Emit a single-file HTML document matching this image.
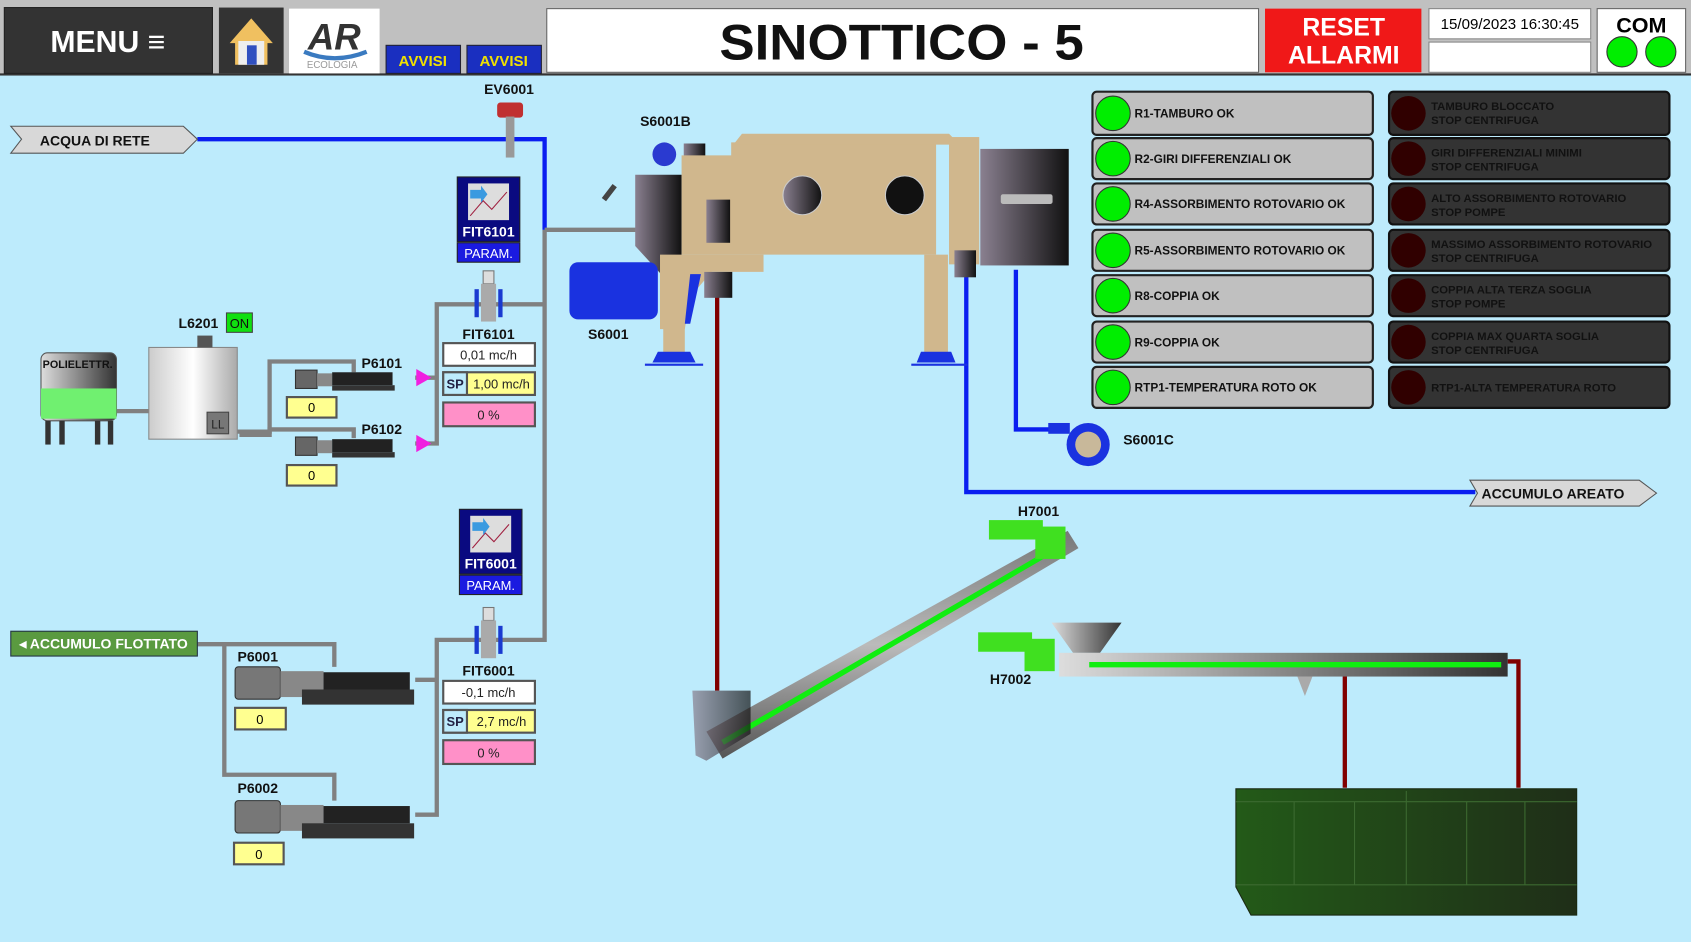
<!DOCTYPE html>
<html><head><meta charset="utf-8"><style>
html,body{margin:0;padding:0;background:#bdebfc;overflow:hidden}
svg{display:block}
text{font-family:"Liberation Sans Narrow","Liberation Sans",sans-serif}
.b{font-weight:bold}
</style></head><body>
<svg width="1691" height="942" viewBox="0 0 1568 873" preserveAspectRatio="none" xmlns="http://www.w3.org/2000/svg">
<defs>
<linearGradient id="gm" x1="0" x2="1"><stop offset="0" stop-color="#8a8090"/><stop offset="1" stop-color="#111"/></linearGradient>
<linearGradient id="gs" x1="0" x2="1"><stop offset="0" stop-color="#ddd"/><stop offset=".5" stop-color="#888"/><stop offset="1" stop-color="#333"/></linearGradient>
<linearGradient id="gt" x1="0" x2="1"><stop offset="0" stop-color="#ccc"/><stop offset=".5" stop-color="#fff"/><stop offset="1" stop-color="#aaa"/></linearGradient>
<linearGradient id="gc" x1="0" x2="1"><stop offset="0" stop-color="#235a18"/><stop offset="1" stop-color="#1f2e18"/></linearGradient>
<linearGradient id="gsc" x1="0" y1="0" x2="0" y2="1"><stop offset="0" stop-color="#777"/><stop offset=".5" stop-color="#bbb"/><stop offset="1" stop-color="#555"/></linearGradient>
</defs>
<rect width="1568" height="873" fill="#bdebfc"/>
<!-- header -->
<rect x="0" y="0" width="1568" height="70" fill="#c0c0c0"/>
<rect x="0" y="68" width="1568" height="2" fill="#333"/>
<rect x="4" y="7" width="193" height="61" fill="#333" stroke="#222"/>
<text x="100" y="48" text-anchor="middle" class="b" font-size="28" fill="#fff">MENU ≡</text>
<rect x="203" y="7" width="60" height="61" fill="#333"/>
<polygon points="233,17 213,40 218,40 218,60 248,60 248,40 253,40" fill="#f0c060"/>
<rect x="221" y="38" width="24" height="22" fill="#eee"/><rect x="229" y="42" width="9" height="18" fill="#3050c0"/>
<rect x="268" y="8" width="84" height="60" fill="#fff"/>
<text x="310" y="46" text-anchor="middle" class="b" font-size="34" fill="#333" font-style="italic">AR</text>
<path d="M282,48 Q310,60 340,48" stroke="#3a7ac0" stroke-width="4" fill="none"/>
<text x="308" y="63" text-anchor="middle" font-size="9" fill="#999">ECOLOGIA</text>
<rect x="358" y="42" width="69" height="26" fill="#1a2fc0" stroke="#223"/>
<text x="392" y="61" text-anchor="middle" class="b" font-size="14" fill="#f0e000">AVVISI</text>
<rect x="433" y="42" width="69" height="26" fill="#1a2fc0" stroke="#223"/>
<text x="467" y="61" text-anchor="middle" class="b" font-size="14" fill="#f0e000">AVVISI</text>
<rect x="507" y="8" width="660" height="59" fill="#fff" stroke="#666"/>
<text x="836" y="55" text-anchor="middle" class="b" font-size="46" fill="#111" textLength="338" lengthAdjust="spacingAndGlyphs">SINOTTICO - 5</text>
<rect x="1173" y="8" width="145" height="59" fill="#f01818"/>
<text x="1246" y="33" text-anchor="middle" class="b" font-size="23" fill="#fff">RESET</text>
<text x="1246" y="59" text-anchor="middle" class="b" font-size="23" fill="#fff">ALLARMI</text>
<rect x="1325" y="8" width="150" height="28" fill="#fff" stroke="#888"/>
<text x="1400" y="27" text-anchor="middle" font-size="14" fill="#000">15/09/2023 16:30:45</text>
<rect x="1325" y="39" width="150" height="28" fill="#fff" stroke="#888"/>
<rect x="1481" y="8" width="82" height="59" fill="#fff" stroke="#666"/>
<text x="1522" y="30" text-anchor="middle" class="b" font-size="20" fill="#000">COM</text>
<circle cx="1504" cy="48" r="14" fill="#00ee00" stroke="#333"/><circle cx="1540" cy="48" r="14" fill="#00ee00" stroke="#333"/>

<!-- pipes -->
<polyline points="183,129 505,129 505,213" fill="none" stroke="#0a1ef0" stroke-width="4"/>
<g fill="none" stroke="#808080" stroke-width="4">
<polyline points="505,213 590,213"/>
<polyline points="505,213 505,593 405,593 405,755 385,755"/>
<polyline points="505,282 405,282 405,411 385,411"/>
<polyline points="405,350 385,350"/>
<polyline points="405,630 385,630"/>
<polyline points="183,597 310,597 310,618"/>
<polyline points="208,597 208,718 310,718 310,742"/>
<polyline points="108,381 140,381"/>
<polyline points="220,400 250,400 250,335 328,335 328,345"/>
<polyline points="222,403 250,403 250,398 328,398 328,406"/>
</g>
<g fill="none" stroke="#0a1ef0" stroke-width="4">
<polyline points="942,250 942,398 975,398"/>
<polyline points="896,250 896,456 1368,456"/>
</g>
<g fill="none" stroke="#800000" stroke-width="4">
<line x1="665" y1="275" x2="665" y2="640"/>
<polyline points="1247,625 1247,730"/>
<polyline points="1398,613 1408,613 1408,730"/>
</g>

<polygon points="10,117 170,117 183,129 170,142 10,142 20,129" fill="#d8d8d8" stroke="#555"/>
<text x="88" y="135" text-anchor="middle" class="b" font-size="13" fill="#111">ACQUA DI RETE</text>
<polygon points="1363,445 1520,445 1536,457 1520,469 1363,469 1370,457" fill="#d8d8d8" stroke="#555"/>
<text x="1440" y="462" text-anchor="middle" class="b" font-size="13" fill="#111">ACCUMULO AREATO</text>
<rect x="10" y="585" width="173" height="23" fill="#5a9a40" stroke="#234"/>
<text x="96" y="601" text-anchor="middle" class="b" font-size="13" fill="#fff">◂ ACCUMULO FLOTTATO</text>

<text x="472" y="87" text-anchor="middle" class="b" font-size="13" fill="#111">EV6001</text>
<rect x="461" y="95" width="24" height="14" rx="3" fill="#c03030"/>
<rect x="469" y="108" width="8" height="38" fill="#999"/>

<rect x="424" y="164" width="58" height="60" fill="#0a0a80" stroke="#222"/>
<rect x="434" y="170" width="38" height="34" fill="#ddd"/>
<polyline points="436,200 448,186 456,194 470,178" stroke="#a02040" fill="none"/>
<polygon points="436,176 446,176 446,172 452,180 446,188 446,184 436,184" fill="#3a9ae0"/>
<text x="453" y="219" text-anchor="middle" class="b" font-size="13" fill="#fff">FIT6101</text>
<rect x="424" y="225" width="58" height="18" fill="#1a1ae0" stroke="#222"/>
<text x="453" y="239" text-anchor="middle" font-size="12" fill="#fff">PARAM.</text>
<rect x="448" y="251" width="10" height="12" fill="#ddd" stroke="#777"/>
<rect x="446" y="263" width="14" height="35" fill="#aaa"/>
<rect x="440" y="268" width="4" height="26" fill="#1a3ad0"/><rect x="462" y="268" width="4" height="26" fill="#1a3ad0"/>
<text x="453" y="314" text-anchor="middle" class="b" font-size="13" fill="#111">FIT6101</text>
<rect x="411" y="318" width="85" height="21" fill="#fff" stroke="#555" stroke-width="2"/>
<text x="453" y="333" text-anchor="middle" font-size="12" fill="#222">0,01 mc/h</text>
<rect x="411" y="345" width="85" height="21" fill="#ffff90" stroke="#555" stroke-width="2"/>
<rect x="411" y="345" width="22" height="21" fill="#bdebfc" stroke="#555" stroke-width="2"/>
<text x="422" y="360" text-anchor="middle" class="b" font-size="12" fill="#224">SP</text>
<text x="465" y="360" text-anchor="middle" font-size="12" fill="#222">1,00 mc/h</text>
<rect x="411" y="373" width="85" height="22" fill="#ff90c8" stroke="#555" stroke-width="2"/>
<text x="453" y="389" text-anchor="middle" font-size="12" fill="#222">0 %</text>

<rect x="426" y="472" width="58" height="60" fill="#0a0a80" stroke="#222"/>
<rect x="436" y="478" width="38" height="34" fill="#ddd"/>
<polyline points="438,508 450,494 458,502 472,486" stroke="#a02040" fill="none"/>
<polygon points="438,484 448,484 448,480 454,488 448,496 448,492 438,492" fill="#3a9ae0"/>
<text x="455" y="527" text-anchor="middle" class="b" font-size="13" fill="#fff">FIT6001</text>
<rect x="426" y="533" width="58" height="18" fill="#1a1ae0" stroke="#222"/>
<text x="455" y="547" text-anchor="middle" font-size="12" fill="#fff">PARAM.</text>
<rect x="448" y="563" width="10" height="12" fill="#ddd" stroke="#777"/>
<rect x="446" y="575" width="14" height="35" fill="#aaa"/>
<rect x="440" y="580" width="4" height="26" fill="#1a3ad0"/><rect x="462" y="580" width="4" height="26" fill="#1a3ad0"/>
<text x="453" y="626" text-anchor="middle" class="b" font-size="13" fill="#111">FIT6001</text>
<rect x="411" y="631" width="85" height="21" fill="#fff" stroke="#555" stroke-width="2"/>
<text x="453" y="646" text-anchor="middle" font-size="12" fill="#222">-0,1 mc/h</text>
<rect x="411" y="658" width="85" height="21" fill="#ffff90" stroke="#555" stroke-width="2"/>
<rect x="411" y="658" width="22" height="21" fill="#bdebfc" stroke="#555" stroke-width="2"/>
<text x="422" y="673" text-anchor="middle" class="b" font-size="12" fill="#224">SP</text>
<text x="465" y="673" text-anchor="middle" font-size="12" fill="#222">2,7 mc/h</text>
<rect x="411" y="686" width="85" height="22" fill="#ff90c8" stroke="#555" stroke-width="2"/>
<text x="453" y="702" text-anchor="middle" font-size="12" fill="#222">0 %</text>

<rect x="38" y="327" width="70" height="63" rx="6" fill="url(#gs)" stroke="#555"/>
<rect x="38" y="360" width="70" height="28" fill="#70f070"/>
<text x="72" y="341" text-anchor="middle" class="b" font-size="10" fill="#111">POLIELETTR.</text>
<g fill="#333"><rect x="42" y="390" width="5" height="22"/><rect x="55" y="390" width="5" height="22"/><rect x="88" y="390" width="5" height="22"/><rect x="100" y="390" width="5" height="22"/></g>
<rect x="138" y="322" width="82" height="85" fill="url(#gt)" stroke="#888"/>
<rect x="192" y="382" width="20" height="20" fill="#777" stroke="#444"/>
<text x="202" y="397" text-anchor="middle" font-size="11" fill="#222">LL</text>
<rect x="183" y="311" width="14" height="11" fill="#555"/>
<text x="184" y="304" text-anchor="middle" class="b" font-size="13" fill="#111">L6201</text>
<rect x="210" y="290" width="24" height="18" fill="#10e010" stroke="#444"/>
<text x="222" y="304" text-anchor="middle" font-size="12" fill="#111">ON</text>

<g id="sp">
<rect x="274" y="343" width="20" height="17" fill="#666" stroke="#333"/>
<rect x="294" y="346" width="14" height="12" fill="#888"/>
<rect x="308" y="345" width="56" height="12" fill="#222"/>
<rect x="308" y="357" width="58" height="5" fill="#333"/>
</g>
<use href="#sp" y="62"/>
<text x="354" y="341" text-anchor="middle" class="b" font-size="13" fill="#111">P6101</text>
<text x="354" y="402" text-anchor="middle" class="b" font-size="13" fill="#111">P6102</text>
<polygon points="386,342 400,350 386,358" fill="#f020e0"/>
<polygon points="386,403 400,411 386,419" fill="#f020e0"/>
<rect x="266" y="368" width="46" height="19" fill="#ffff90" stroke="#555" stroke-width="2"/>
<text x="289" y="382" text-anchor="middle" font-size="12">0</text>
<rect x="266" y="431" width="46" height="19" fill="#ffff90" stroke="#555" stroke-width="2"/>
<text x="289" y="445" text-anchor="middle" font-size="12">0</text>

<g id="bp">
<rect x="218" y="618" width="42" height="30" rx="3" fill="#777" stroke="#333"/>
<rect x="260" y="622" width="40" height="24" fill="#888"/>
<rect x="300" y="623" width="80" height="16" fill="#222"/>
<rect x="280" y="639" width="104" height="14" fill="#333"/>
</g>
<use href="#bp" y="124"/>
<text x="239" y="613" text-anchor="middle" class="b" font-size="13" fill="#111">P6001</text>
<text x="239" y="735" text-anchor="middle" class="b" font-size="13" fill="#111">P6002</text>
<rect x="218" y="656" width="47" height="20" fill="#ffff90" stroke="#555" stroke-width="2"/>
<text x="241" y="671" text-anchor="middle" font-size="12">0</text>
<rect x="217" y="781" width="46" height="20" fill="#ffff90" stroke="#555" stroke-width="2"/>
<text x="240" y="796" text-anchor="middle" font-size="12">0</text>

<text x="617" y="117" text-anchor="middle" class="b" font-size="13" fill="#111">S6001B</text>
<circle cx="616" cy="143" r="11" fill="#2a3ad0"/>
<polygon points="634,133 654,133 654,185 644,200 634,185" fill="url(#gm)"/>
<polygon points="589,162 632,162 632,253 612,253 589,228" fill="url(#gm)"/>
<path d="M570,172 L560,185" stroke="#444" stroke-width="5"/>
<polygon points="632,144 678,144 678,132 868,132 868,236 632,236" fill="#d0b78d"/>
<polygon points="688,124 880,124 890,134 680,134" fill="#d0b78d"/>
<rect x="880" y="127" width="28" height="118" fill="#d0b78d"/>
<rect x="909" y="138" width="82" height="108" fill="url(#gm)"/>
<rect x="928" y="180" width="48" height="9" rx="2" fill="#bbb"/>
<circle cx="744" cy="181" r="18" fill="url(#gm)" stroke="#ccc"/>
<circle cx="839" cy="181" r="18" fill="#111" stroke="#ccc"/>
<rect x="655" y="185" width="22" height="40" fill="url(#gm)"/>
<polygon points="612,236 708,236 708,252 660,252 640,275 635,305 612,305" fill="#d0b78d"/>
<rect x="615" y="250" width="20" height="77" fill="#d0b78d"/>
<rect x="653" y="252" width="26" height="24" fill="url(#gm)"/>
<rect x="528" y="243" width="82" height="53" rx="8" fill="#1a32e0"/>
<polygon points="640,254 650,254 640,300 635,300" fill="#1a32e0"/>
<rect x="857" y="236" width="22" height="92" fill="#d0b78d"/>
<rect x="885" y="232" width="20" height="25" fill="url(#gm)"/>
<polygon points="610,326 640,326 645,336 605,336" fill="#1a32e0"/>
<rect x="598" y="337" width="54" height="2" fill="#1a32e0"/>
<polygon points="854,326 882,326 886,336 850,336" fill="#1a32e0"/>
<rect x="845" y="337" width="52" height="2" fill="#1a32e0"/>
<text x="564" y="314" text-anchor="middle" class="b" font-size="13" fill="#111">S6001</text>
<rect x="972" y="392" width="20" height="10" fill="#1a32e0"/>
<circle cx="1009" cy="412" r="20" fill="#1a32e0"/>
<circle cx="1009" cy="412" r="12" fill="#c8b89a"/>
<text x="1065" y="412" text-anchor="middle" class="b" font-size="13" fill="#111">S6001C</text>

<text x="963" y="478" text-anchor="middle" class="b" font-size="13" fill="#111">H7001</text>
<polygon points="655,678 990,492 1000,508 670,703" fill="url(#gsc)"/>
<line x1="670" y1="688" x2="985" y2="505" stroke="#10ee10" stroke-width="5"/>
<polygon points="642,640 696,640 696,680 655,705 645,700" fill="url(#gm)" opacity=".7"/>
<rect x="917" y="482" width="50" height="18" fill="#40e020"/>
<rect x="960" y="488" width="28" height="30" fill="#40e020"/>
<polygon points="975,577 1040,577 1020,605 995,605" fill="url(#gs)"/>
<rect x="982" y="605" width="416" height="22" fill="url(#gs)"/>
<line x1="1010" y1="616" x2="1392" y2="616" stroke="#10ee10" stroke-width="5"/>
<rect x="907" y="586" width="50" height="18" fill="#40e020"/>
<rect x="950" y="592" width="28" height="30" fill="#40e020"/>
<text x="937" y="634" text-anchor="middle" class="b" font-size="13" fill="#111">H7002</text>
<polygon points="1203,627 1217,627 1210,645" fill="#aaa"/>
<polygon points="1146,731 1462,731 1462,848 1160,848 1146,822" fill="url(#gc)" stroke="#1a2a12"/>
<g stroke="#3c6a30" stroke-width="1" fill="none">
<line x1="1146" y1="743" x2="1462" y2="743"/><line x1="1146" y1="820" x2="1462" y2="820"/>
<line x1="1200" y1="743" x2="1200" y2="820"/><line x1="1256" y1="743" x2="1256" y2="820"/><line x1="1304" y1="733" x2="1304" y2="820"/><line x1="1360" y1="743" x2="1360" y2="820"/><line x1="1414" y1="743" x2="1414" y2="820"/>
</g>

<g font-weight="bold" font-size="11">
<rect x="1013" y="85" width="260" height="40" rx="4" fill="#c0c0c0" stroke="#222" stroke-width="2"/><circle cx="1032" cy="105" r="16" fill="#00ee00" stroke="#333"/><text x="1052" y="109" fill="#111">R1-TAMBURO OK</text>
<rect x="1013" y="128" width="260" height="38" rx="4" fill="#c0c0c0" stroke="#222" stroke-width="2"/><circle cx="1032" cy="147" r="16" fill="#00ee00" stroke="#333"/><text x="1052" y="151" fill="#111">R2-GIRI DIFFERENZIALI OK</text>
<rect x="1013" y="170" width="260" height="38" rx="4" fill="#c0c0c0" stroke="#222" stroke-width="2"/><circle cx="1032" cy="189" r="16" fill="#00ee00" stroke="#333"/><text x="1052" y="193" fill="#111">R4-ASSORBIMENTO ROTOVARIO OK</text>
<rect x="1013" y="213" width="260" height="38" rx="4" fill="#c0c0c0" stroke="#222" stroke-width="2"/><circle cx="1032" cy="232" r="16" fill="#00ee00" stroke="#333"/><text x="1052" y="236" fill="#111">R5-ASSORBIMENTO ROTOVARIO OK</text>
<rect x="1013" y="255" width="260" height="38" rx="4" fill="#c0c0c0" stroke="#222" stroke-width="2"/><circle cx="1032" cy="274" r="16" fill="#00ee00" stroke="#333"/><text x="1052" y="278" fill="#111">R8-COPPIA OK</text>
<rect x="1013" y="298" width="260" height="38" rx="4" fill="#c0c0c0" stroke="#222" stroke-width="2"/><circle cx="1032" cy="317" r="16" fill="#00ee00" stroke="#333"/><text x="1052" y="321" fill="#111">R9-COPPIA OK</text>
<rect x="1013" y="340" width="260" height="38" rx="4" fill="#c0c0c0" stroke="#222" stroke-width="2"/><circle cx="1032" cy="359" r="16" fill="#00ee00" stroke="#333"/><text x="1052" y="363" fill="#111">RTP1-TEMPERATURA ROTO OK</text>
</g>
<g font-weight="bold" font-size="10.5">
<rect x="1288" y="85" width="260" height="40" rx="4" fill="#333" stroke="#111" stroke-width="2"/><circle cx="1306" cy="105" r="16" fill="#300000"/><text x="1327" y="102" fill="#111">TAMBURO BLOCCATO</text><text x="1327" y="115" fill="#111">STOP CENTRIFUGA</text>
<rect x="1288" y="128" width="260" height="38" rx="4" fill="#333" stroke="#111" stroke-width="2"/><circle cx="1306" cy="147" r="16" fill="#300000"/><text x="1327" y="145" fill="#111">GIRI DIFFERENZIALI MINIMI</text><text x="1327" y="158" fill="#111">STOP CENTRIFUGA</text>
<rect x="1288" y="170" width="260" height="38" rx="4" fill="#333" stroke="#111" stroke-width="2"/><circle cx="1306" cy="189" r="16" fill="#300000"/><text x="1327" y="187" fill="#111">ALTO ASSORBIMENTO ROTOVARIO</text><text x="1327" y="200" fill="#111">STOP POMPE</text>
<rect x="1288" y="213" width="260" height="38" rx="4" fill="#333" stroke="#111" stroke-width="2"/><circle cx="1306" cy="232" r="16" fill="#300000"/><text x="1327" y="230" fill="#111" textLength="205" lengthAdjust="spacingAndGlyphs">MASSIMO ASSORBIMENTO ROTOVARIO</text><text x="1327" y="243" fill="#111">STOP CENTRIFUGA</text>
<rect x="1288" y="255" width="260" height="38" rx="4" fill="#333" stroke="#111" stroke-width="2"/><circle cx="1306" cy="274" r="16" fill="#300000"/><text x="1327" y="272" fill="#111">COPPIA ALTA TERZA SOGLIA</text><text x="1327" y="285" fill="#111">STOP POMPE</text>
<rect x="1288" y="298" width="260" height="38" rx="4" fill="#333" stroke="#111" stroke-width="2"/><circle cx="1306" cy="317" r="16" fill="#300000"/><text x="1327" y="315" fill="#111">COPPIA MAX QUARTA SOGLIA</text><text x="1327" y="328" fill="#111">STOP CENTRIFUGA</text>
<rect x="1288" y="340" width="260" height="38" rx="4" fill="#333" stroke="#111" stroke-width="2"/><circle cx="1306" cy="359" r="16" fill="#300000"/><text x="1327" y="363" fill="#111">RTP1-ALTA TEMPERATURA ROTO</text>
</g>
</svg>
</body></html>
